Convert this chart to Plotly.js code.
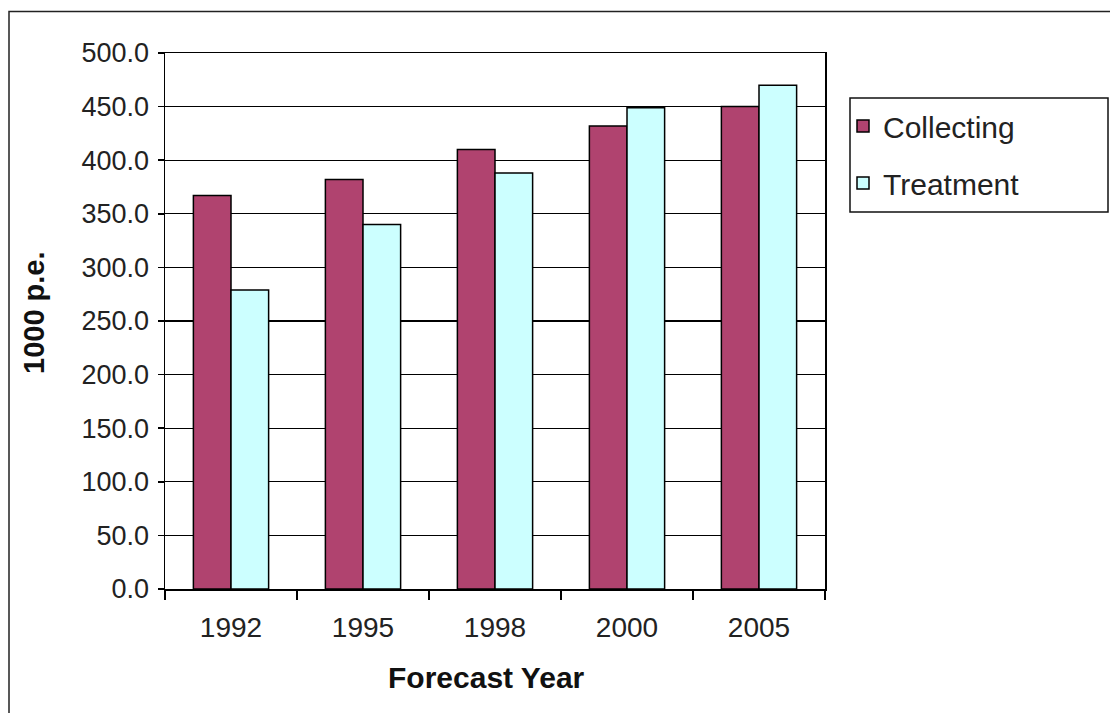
<!DOCTYPE html>
<html>
<head>
<meta charset="utf-8">
<script src="https://cdn.plot.ly/plotly-3.0.1.min.js"></script>
<style>
  html, body { margin: 0; padding: 0; background: #ffffff; }
  #chart { width: 1110px; height: 713px; }
</style>
</head>
<body>
<div id="chart"></div>
<script>
const years = ["1992", "1995", "1998", "2000", "2005"];
const collecting = [367, 382, 410, 432, 450];
const treatment = [279, 340, 388, 449, 470];
const yTickVals = [0, 50, 100, 150, 200, 250, 300, 350, 400, 450, 500];
const seriesNames = ["Collecting", "Treatment"];
const xTitle = "Forecast Year";
const yTitle = "1000 p.e.";

const FONT = "Liberation Sans, Arial, sans-serif";

const traces = [
  {
    type: "bar", name: seriesNames[0], x: years, y: collecting,
    legendgroup: "a",
    marker: { color: "#B0436F", line: { color: "#000000", width: 1.5 } }
  },
  {
    type: "bar", name: seriesNames[1], x: years, y: treatment,
    legendgroup: "b",
    marker: { color: "#CCFFFF", line: { color: "#000000", width: 1.5 } }
  }
];

// plot area: x 165..825, y 53..589
const L = 165, R = 825, T = 53, B = 589;
const px = v => (v - L) / (R - L);
const py = v => (B - v) / (B - T);

const layout = {
  width: 1110, height: 713,
  margin: { l: L, r: 1110 - R, t: T, b: 713 - B },
  paper_bgcolor: "#ffffff", plot_bgcolor: "#ffffff",
  font: { family: FONT, color: "#222222", size: 27 },
  barmode: "group",
  bargap: 0.43, bargroupgap: 0,
  showlegend: true,
  legend: {
    x: px(843), y: py(100), xanchor: "left", yanchor: "top",
    bgcolor: "rgba(0,0,0,0)", borderwidth: 0,
    font: { family: FONT, size: 30, color: "#222222" },
    tracegroupgap: 15, traceorder: "grouped"
  },
  xaxis: {
    type: "category",
    showline: true, linecolor: "#000000", linewidth: 1.5, mirror: true,
    ticks: "outside", tickson: "boundaries", ticklen: 9, tickcolor: "#000000", tickwidth: 1.5,
    tickfont: { family: FONT, size: 28, color: "#222222" },
    ticklabelstandoff: 13,
    showgrid: false, zeroline: false
  },
  yaxis: {
    range: [0, 500], tickvals: yTickVals, tickformat: ".1f",
    showline: true, linecolor: "#000000", linewidth: 1.5, mirror: true,
    ticks: "outside", ticklen: 6, tickcolor: "#000000", tickwidth: 1.5,
    tickfont: { family: FONT, size: 27, color: "#222222" },
    ticklabelstandoff: 3,
    showgrid: true, gridcolor: "#000000", gridwidth: 1.3, zeroline: false
  },
  annotations: [
    { text: "<b>" + xTitle + "</b>", xref: "paper", yref: "paper",
      x: px(486), y: py(677), xanchor: "center", yanchor: "middle", showarrow: false,
      font: { family: FONT, size: 30, color: "#111111" } },
    { text: "<b>" + yTitle + "</b>", xref: "paper", yref: "paper", textangle: -90,
      x: px(34), y: py(313), xanchor: "center", yanchor: "middle", showarrow: false,
      font: { family: FONT, size: 29, color: "#111111" } }
  ],
  shapes: [
    { type: "rect", xref: "paper", yref: "paper",
      x0: px(9), x1: px(1115), y0: py(720), y1: py(11.5),
      line: { color: "#222222", width: 1.5 }, fillcolor: "rgba(0,0,0,0)", layer: "below" },
    { type: "rect", xref: "paper", yref: "paper",
      x0: px(850), x1: px(1108), y0: py(212), y1: py(98),
      line: { color: "#111111", width: 1.5 }, fillcolor: "rgba(0,0,0,0)", layer: "above" }
  ]
};

Plotly.newPlot("chart", traces, layout, { displayModeBar: false, staticPlot: true });
</script>
</body>
</html>
